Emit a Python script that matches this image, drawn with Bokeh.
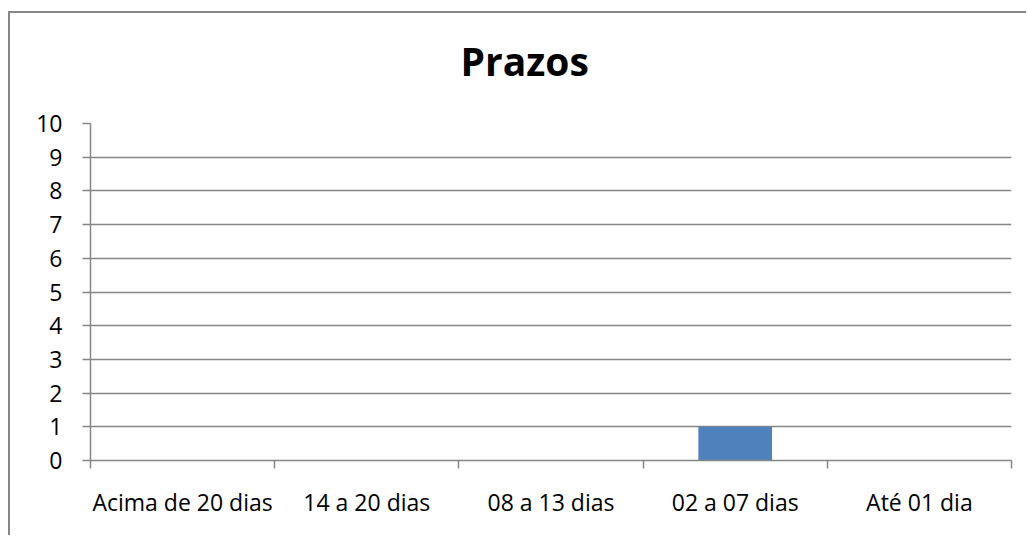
from bokeh.plotting import figure
from bokeh.models import Range1d, FixedTicker, Title
from bokeh.embed import file_html
from bokeh.resources import INLINE

# data
categories = ["Acima de 20 dias", "14 a 20 dias", "08 a 13 dias", "02 a 07 dias", "Até 01 dia"]
values = [0, 0, 0, 1, 0]
y_ticks = list(range(0, 11))
title_text = "Prazos"

centers = [i + 0.5 for i in range(len(categories))]
bounds = list(range(len(categories) + 1))

GRID = "#868686"
FONT = "Open Sans"

p = figure(width=1018, height=524, output_backend="svg", toolbar_location=None,
           x_range=Range1d(0, len(categories)), y_range=Range1d(0, 10),
           min_border_left=80, min_border_right=17, min_border_top=110, min_border_bottom=77)
p.styles = {"border-top": "2px solid #868686", "border-left": "2px solid #868686",
            "margin-top": "11px", "margin-left": "8px"}

p.outline_line_color = None
p.background_fill_color = "white"
p.border_fill_color = "white"

# spacer between the plot area and the title (closest to the frame)
spacer = Title(text=" ", text_font_size="2px", standoff=28)
p.add_layout(spacer, "above")
main_title = Title(text=title_text, text_font=FONT, text_font_size="39px",
                   text_font_style="bold", text_color="black", align="left",
                   offset=370, standoff=10)
p.add_layout(main_title, "above")

p.vbar(x=centers, top=values, bottom=0, width=0.4, color="#4F81BD", line_color=None)

# x axis
xa = p.xaxis[0]
xa.ticker = FixedTicker(ticks=centers, minor_ticks=bounds)
xa.major_label_overrides = {c: lab for c, lab in zip(centers, categories)}
xa.major_tick_out = 0
xa.major_tick_in = 0
xa.minor_tick_out = 8
xa.minor_tick_in = 0
xa.minor_tick_line_color = GRID
xa.minor_tick_line_width = 1.5
xa.axis_line_color = GRID
xa.axis_line_width = 1.5
xa.major_label_text_font = FONT
xa.major_label_text_font_size = "23px"
xa.major_label_text_color = "black"
xa.major_label_standoff = 17

# y axis
ya = p.yaxis[0]
ya.ticker = FixedTicker(ticks=y_ticks)
ya.major_tick_out = 8
ya.major_tick_in = 0
ya.minor_tick_line_color = None
ya.major_tick_line_color = GRID
ya.major_tick_line_width = 1.5
ya.axis_line_color = GRID
ya.axis_line_width = 1.5
ya.major_label_text_font = FONT
ya.major_label_text_font_size = "23px"
ya.major_label_text_color = "black"
ya.major_label_standoff = 20

p.xgrid.grid_line_color = None
p.ygrid.ticker = FixedTicker(ticks=y_ticks)
p.ygrid.grid_line_color = GRID
p.ygrid.grid_line_width = 1.5

open("out.html", "w").write(file_html(p, INLINE))
